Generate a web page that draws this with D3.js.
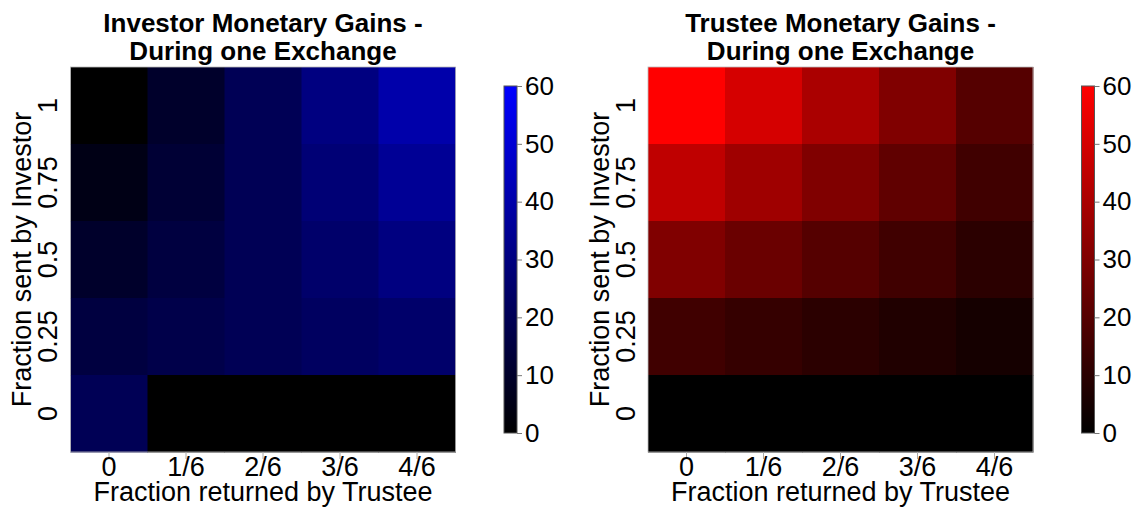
<!DOCTYPE html>
<html><head><meta charset="utf-8">
<script src="https://cdn.jsdelivr.net/npm/d3@7"></script>
<style>
html,body{margin:0;padding:0;background:#fff;}
text{font-family:"Liberation Sans",Arial,sans-serif;fill:#000;}
</style></head>
<body><svg id="chart" width="1140" height="508"></svg>
<script>
// categories
const returnedLabels = ["0","1/6","2/6","3/6","4/6"];
const sentLabels = ["1","0.75","0.5","0.25","0"]; // top to bottom
// investor gains, rows = sent (top->bottom), cols = returned
const investorGains = [
  [0, 10, 20, 30, 40],
  [5, 12.5, 20, 27.5, 35],
  [10, 15, 20, 25, 30],
  [15, 17.5, 20, 22.5, 25],
  [20, 0, 0, 0, 0]
];
const trusteeGains = [
  [60, 50, 40, 30, 20],
  [45, 37.5, 30, 22.5, 15],
  [30, 25, 20, 15, 10],
  [15, 12.5, 10, 7.5, 5],
  [0, 0, 0, 0, 0]
];
const colorbarTicks = [0,10,20,30,40,50,60];
const titlesInvestor = ["Investor Monetary Gains -","During one Exchange"];
const titlesTrustee = ["Trustee Monetary Gains -","During one Exchange"];

const svg = d3.select("#chart");

function panel(ox, data, maxColor, titleLines, gid){
  const x0 = ox + 70.5, x1 = ox + 455.5, y0 = 67, y1 = 452;
  const x = d3.scaleBand().domain(returnedLabels).range([x0, x1]);
  const y = d3.scaleBand().domain(sentLabels).range([y0, y1]);
  const color = d3.scaleLinear().domain([0,60]).range(["#000000", maxColor]).clamp(true);
  const g = svg.append("g");
  const cells = [];
  data.forEach((row,i)=>row.forEach((v,j)=>cells.push({r:sentLabels[i], c:returnedLabels[j], v})));
  g.selectAll("rect.cell").data(cells).enter().append("rect")
    .attr("x", d=>x(d.c)).attr("y", d=>y(d.r))
    .attr("width", x.bandwidth()+0.5).attr("height", y.bandwidth()+0.5)
    .attr("fill", d=>color(d.v));
  g.append("rect").attr("x",x0).attr("y",y0).attr("width",x1-x0).attr("height",y1-y0)
    .attr("fill","none").attr("stroke","#bbb").attr("stroke-width",0.8);

  // x axis ticks
  const xa = g.append("g");
  returnedLabels.forEach(l=>{
    const cx = x(l)+x.bandwidth()/2;
    xa.append("line").attr("x1",cx).attr("x2",cx).attr("y1",y1).attr("y2",y1+7).attr("stroke","#aaa");
    xa.append("text").attr("x",cx).attr("y",476).attr("text-anchor","middle").attr("font-size",27).text(l);
  });
  g.append("text").attr("x",(x0+x1)/2).attr("y",501).attr("text-anchor","middle").attr("font-size",27)
    .text("Fraction returned by Trustee");
  // y axis
  sentLabels.forEach(l=>{
    const cy = y(l)+y.bandwidth()/2;
    g.append("text").attr("transform",`translate(${ox+57},${cy}) rotate(-90)`)
      .attr("text-anchor","middle").attr("font-size",27).text(l);
  });
  g.append("text").attr("transform",`translate(${ox+31},${(y0+y1)/2}) rotate(-90)`)
    .attr("text-anchor","middle").attr("font-size",27).text("Fraction sent by Investor");
  // title
  titleLines.forEach((t,i)=>{
    g.append("text").attr("x",(x0+x1)/2).attr("y",32+i*28).attr("text-anchor","middle")
      .attr("font-size",26).attr("font-weight","bold").text(t);
  });
  // colorbar
  const cbX = ox + 504, cbW = 13;
  const cs = d3.scaleLinear().domain([0,60]).range([433,86]);
  const defs = svg.append("defs");
  const grad = defs.append("linearGradient").attr("id",gid).attr("x1",0).attr("y1",1).attr("x2",0).attr("y2",0);
  grad.append("stop").attr("offset","0%").attr("stop-color",color(0));
  grad.append("stop").attr("offset","100%").attr("stop-color",color(60));
  g.append("rect").attr("x",cbX).attr("y",cs(60)).attr("width",cbW).attr("height",cs(0)-cs(60))
    .attr("fill",`url(#${gid})`).attr("stroke","#555").attr("stroke-width",1);
  const ax = d3.axisRight(cs).tickValues(colorbarTicks).tickSize(5).tickPadding(3);
  const ag = g.append("g").attr("transform",`translate(${cbX+cbW},0)`).call(ax);
  ag.select(".domain").remove();
  ag.selectAll(".tick line").attr("stroke","#777");
  ag.selectAll(".tick text").attr("font-size",26).attr("font-family","Liberation Sans, Arial, sans-serif").attr("fill","#000");
}
panel(0, investorGains, "#0000ff", titlesInvestor, "gb");
panel(577.5, trusteeGains, "#ff0000", titlesTrustee, "gr");
</script></body></html>
